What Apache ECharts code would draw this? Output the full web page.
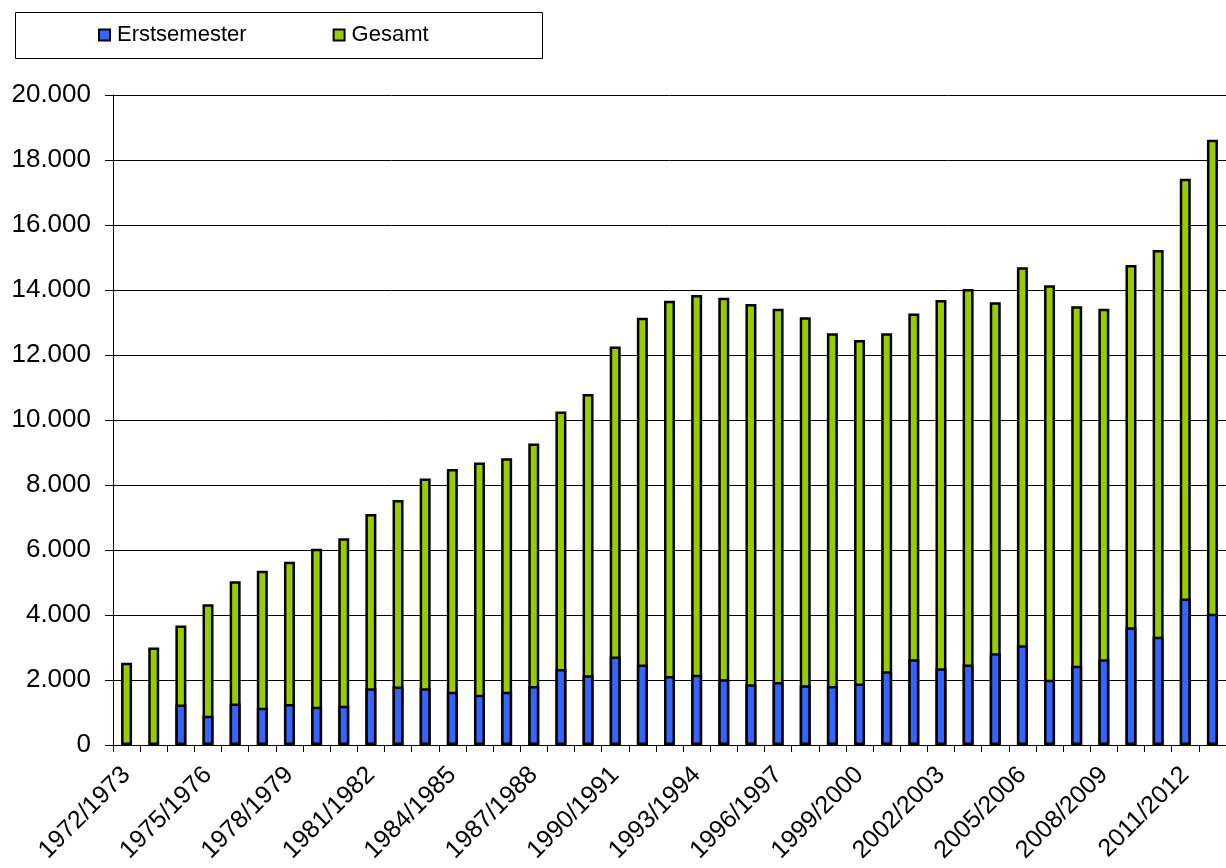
<!DOCTYPE html>
<html>
<head>
<meta charset="utf-8">
<script src="https://cdn.jsdelivr.net/npm/echarts@6/dist/echarts.min.js"></script>
<style>html,body{margin:0;padding:0;background:#fff}#c{width:1226px;height:868px}</style>
</head>
<body>
<div id="c"></div>
<script>
var categories = ['1972/1973','1973/1974','1974/1975','1975/1976','1976/1977','1977/1978','1978/1979','1979/1980','1980/1981','1981/1982','1982/1983','1983/1984','1984/1985','1985/1986','1986/1987','1987/1988','1988/1989','1989/1990','1990/1991','1991/1992','1992/1993','1993/1994','1994/1995','1995/1996','1996/1997','1997/1998','1998/1999','1999/2000','2000/2001','2001/2002','2002/2003','2003/2004','2004/2005','2005/2006','2006/2007','2007/2008','2008/2009','2009/2010','2010/2011','2011/2012','2012/2013'];
var erstsemester = [null,null,1250,900,1280,1150,1260,1180,1210,1750,1800,1745,1640,1550,1640,1815,2340,2150,2720,2480,2120,2165,2020,1870,1940,1840,1815,1890,2270,2640,2360,2480,2820,3070,2010,2440,2640,3620,3330,4510,4040];
var gesamt = [2530,3000,3680,4330,5040,5360,5640,6040,6360,7110,7540,8200,8490,8690,8820,9280,10260,10800,12260,13150,13670,13850,13760,13570,13420,13160,12670,12460,12670,13280,13690,14030,13620,14700,14150,13500,13420,14770,15230,17420,18620];
var yTicks = [0,2000,4000,6000,8000,10000,12000,14000,16000,18000,20000];

function fmt(v){ return String(v).replace(/\B(?=(\d{3})+(?!\d))/g, '.'); }

var chart = echarts.init(document.getElementById('c'));
var font = 'Liberation Sans, Arial, sans-serif';
chart.setOption({
  animation: false,
  textStyle: { fontFamily: font },
  graphic: [{
    type: 'rect', left: 15, top: 12, shape: { width: 527, height: 46 },
    style: { fill: '#fff', stroke: '#000', lineWidth: 1 }, z: 0
  }],
  legend: {
    data: ['Erstsemester', 'Gesamt'],
    left: 93, top: 19, itemWidth: 11, itemHeight: 11, itemGap: 86, icon: 'rect',
    textStyle: { fontSize: 22, color: '#000', fontFamily: font, padding: [0, 0, 0, 2] },
    itemStyle: { borderColor: '#000', borderWidth: 2 },
    z: 5
  },
  grid: { left: 113, top: 95, right: -9, bottom: 123, containLabel: false },
  xAxis: {
    type: 'category', data: categories,
    axisLine: { lineStyle: { color: '#000', width: 1 } },
    axisTick: { show: true, length: 7, interval: 0, lineStyle: { color: '#000' } },
    axisLabel: { interval: 2, rotate: 45, fontSize: 25, color: '#000', margin: 26, fontFamily: font }
  },
  yAxis: {
    type: 'value', min: yTicks[0], max: yTicks[yTicks.length - 1], interval: 2000,
    axisLine: { show: true, lineStyle: { color: '#000', width: 1 } },
    axisTick: { show: true, length: 8, lineStyle: { color: '#000' } },
    splitLine: { lineStyle: { color: '#000', width: 1 } },
    axisLabel: { fontSize: 26, color: '#000', margin: 22, fontFamily: font, formatter: function(v){ return fmt(v); } }
  },
  series: [
    { name: 'Erstsemester', type: 'bar', data: erstsemester, barWidth: 11, barGap: '-100%', z: 3,
      itemStyle: { color: '#3366FF', borderColor: '#000', borderWidth: 2.5 } },
    { name: 'Gesamt', type: 'bar', data: gesamt, barWidth: 11, barGap: '-100%', z: 2,
      itemStyle: { color: '#99CC00', borderColor: '#000', borderWidth: 2.5 } }
  ]
});
</script>
</body>
</html>
